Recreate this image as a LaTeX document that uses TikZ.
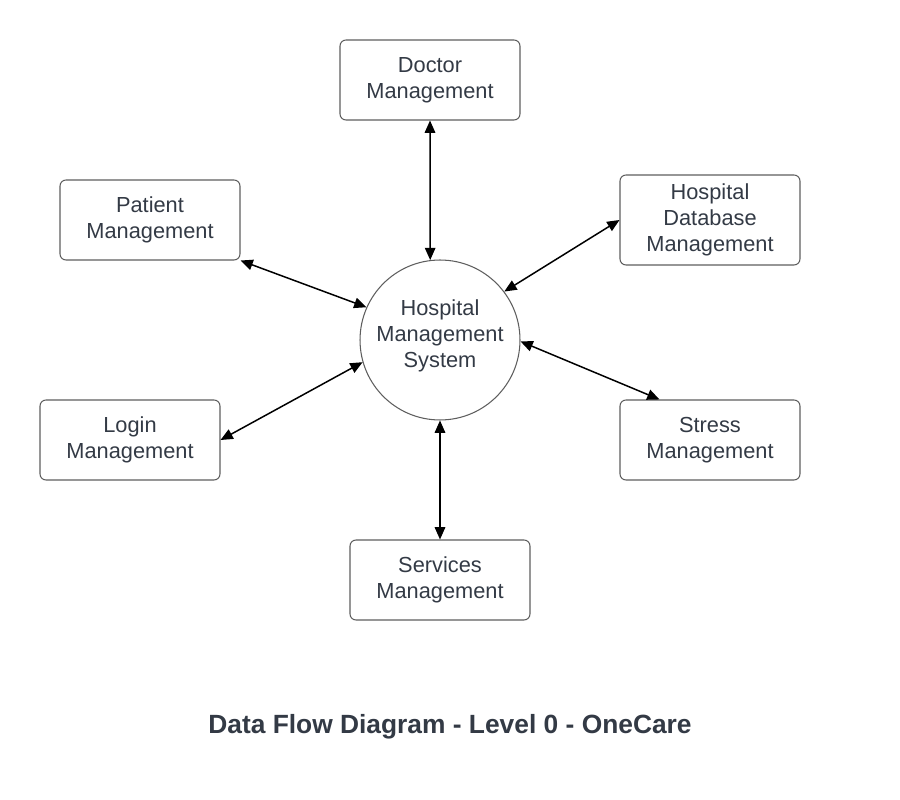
\documentclass[tikz,border=0pt]{standalone}
\usepackage{fontspec}
\setmainfont{Liberation Sans}
\usepackage{tikz}
\usetikzlibrary{arrows.meta,positioning,calc}
\definecolor{txtgray}{HTML}{333A45}
\definecolor{linegray}{HTML}{5E5E5E}

\begin{document}
\begin{tikzpicture}[x=0.02cm, y=-0.02cm, >={Triangle[length=7pt,width=6pt]},
  proc/.style={draw=linegray, line width=0.6pt, rounded corners=1.2mm, minimum width=3.6cm,
    minimum height=1.6cm, align=center, text=txtgray, font=\fontsize{12.4}{14.7}\selectfont},
  flow/.style={<->, line width=0.85pt, black}]

  \useasboundingbox (0,0) rectangle (900,800);

  % Define coordinates for nodes
  \node[draw=linegray, line width=0.6pt, circle, minimum size=3.2cm, align=center, text=txtgray,
    font=\fontsize{12.4}{14.7}\selectfont] (HMS) at (440,340) {};
  \node[align=center, text=txtgray, font=\fontsize{12.4}{14.7}\selectfont] (HMSt) at (440,336)
    {Hospital\\Management\\System};
  \node[proc] (Doc) at (430,80) {Doctor\\Management};
  \node[proc] (Pat) at (150,220) {Patient\\Management};
  \node[proc, minimum height=1.8cm] (DB) at (710,220) {Hospital\\Database\\Management};
  \node[proc] (Log) at (130,440) {Login\\Management};
  \node[proc] (Str) at (710,440) {Stress\\Management};
  \node[proc] (Ser) at (440,580) {Services\\Management};
  \node[text=txtgray, font=\fontsize{15}{18}\selectfont\bfseries] (title) at (450,727)
    {Data Flow Diagram - Level 0 - OneCare};

  % Draw arrows between nodes
  \draw[flow] (Doc.south) to (HMS.97);
  \draw[flow] (Pat.south east) to (HMS.156);
  \draw[flow] (DB.west) to (HMS.37);
  \draw[flow] (Log.east) to (HMS.196);
  \draw[flow] ([xshift=0.8cm]Str.north west) to (HMS.359);
  \draw[flow] (Ser.north) to (HMS.south);
\end{tikzpicture}
\end{document}
